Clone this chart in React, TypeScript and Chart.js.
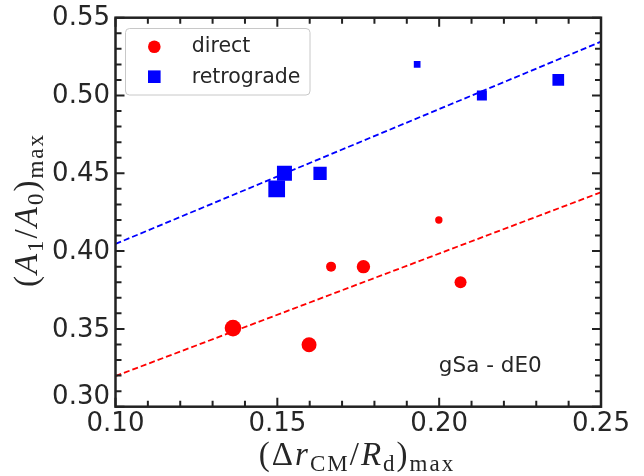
import React, { useEffect, useRef } from 'react';
import { Chart, registerables } from 'chart.js';

Chart.register(...registerables);

// ---- data ----
const directX = [0.1363, 0.1598, 0.1666, 0.1766, 0.1999, 0.2066];
const directY = [0.3505, 0.3398, 0.3900, 0.3900, 0.4200, 0.3800];
const directMarkerRadius = [8.3, 7.5, 5.0, 6.7, 3.7, 6.0];

const retroX = [0.1498, 0.1522, 0.1632, 0.1932, 0.2132, 0.2368];
const retroY = [0.4400, 0.4500, 0.4500, 0.5200, 0.5000, 0.5100];
const retroMarkerSide = [16.7, 15.0, 13.3, 6.7, 10.0, 11.7];

const fitX = [0.10, 0.25];
const directFitY = [0.3197, 0.4378];
const retroFitY = [0.4046, 0.5346];

const xTickValues = [0.10, 0.15, 0.20, 0.25];
const xTickLabels = ['0.10', '0.15', '0.20', '0.25'];
const yTickValues = [0.30, 0.35, 0.40, 0.45, 0.50, 0.55];
const yTickLabels = ['0.30', '0.35', '0.40', '0.45', '0.50', '0.55'];
const minorStep = 0.01;

const legendLabels = ['direct', 'retrograde'];
const annotationText = 'gSa - dE0';

type Seg = { t: string; it?: boolean; sub?: boolean };
const xTitle: Seg[] = [
  { t: '(' }, { t: 'Δ' }, { t: 'r', it: true }, { t: 'CM', sub: true },
  { t: '/' }, { t: 'R', it: true }, { t: 'd', sub: true }, { t: ')' }, { t: 'max', sub: true },
];
const yTitle: Seg[] = [
  { t: '(' }, { t: 'A', it: true }, { t: '1', sub: true }, { t: '/' },
  { t: 'A', it: true }, { t: '0', sub: true }, { t: ')' }, { t: 'max', sub: true },
];

const TEXT = '#262626';
const SANS = '"DejaVu Sans", sans-serif';
const SERIF = '"Liberation Serif", serif';

function drawMath(ctx: CanvasRenderingContext2D, segs: Seg[], cx: number, baseline: number, main: number, sub: number, drop: number) {
  ctx.save();
  (ctx as any).letterSpacing = '2px';
  const font = (s: Seg) => `${s.it ? 'italic ' : ''}${s.sub ? sub : main}px ${SERIF}`;
  let w = 0;
  for (const s of segs) { ctx.font = font(s); w += ctx.measureText(s.t).width; }
  let x = cx - w / 2;
  ctx.fillStyle = TEXT;
  ctx.textBaseline = 'alphabetic';
  ctx.textAlign = 'left';
  for (const s of segs) {
    ctx.font = font(s);
    ctx.fillText(s.t, x, baseline + (s.sub ? drop : 0));
    x += ctx.measureText(s.t).width;
  }
  ctx.restore();
}

const decor = {
  id: 'decor',
  afterDatasetsDraw(chart: any) {
    const ctx: CanvasRenderingContext2D = chart.ctx;
    const { left, right, top, bottom } = chart.chartArea;
    const xs = chart.scales.x;
    const ys = chart.scales.y;
    ctx.save();
    // frame
    ctx.strokeStyle = '#222';
    ctx.lineWidth = 2.5;
    ctx.strokeRect(left, top, right - left, bottom - top);
    // ticks (inward, all sides)
    ctx.lineWidth = 2;
    const isMajor = (arr: number[], v: number) => arr.some((a) => Math.abs(a - v) < 1e-6);
    const nx = Math.round((xs.max - xs.min) / minorStep);
    for (let i = 0; i <= nx; i++) {
      const v = xs.min + i * minorStep;
      const p = xs.getPixelForValue(v);
      const len = isMajor(xTickValues, v) ? 9 : 6;
      ctx.beginPath();
      ctx.moveTo(p, bottom); ctx.lineTo(p, bottom - len);
      ctx.moveTo(p, top); ctx.lineTo(p, top + len);
      ctx.stroke();
    }
    const ny = Math.round((ys.max - ys.min) / minorStep);
    for (let i = 0; i <= ny; i++) {
      const v = ys.min + i * minorStep;
      const p = ys.getPixelForValue(v);
      const len = isMajor(yTickValues, v) ? 9 : 6;
      ctx.beginPath();
      ctx.moveTo(left, p); ctx.lineTo(left + len, p);
      ctx.moveTo(right, p); ctx.lineTo(right - len, p);
      ctx.stroke();
    }
    // y tick labels (lowest one nudged up, as in the original)
    ctx.fillStyle = TEXT;
    ctx.font = `26px ${SANS}`;
    ctx.textAlign = 'right';
    ctx.textBaseline = 'middle';
    yTickValues.forEach((v, i) => {
      const p = ys.getPixelForValue(v) + (i === 0 ? -9 : 1);
      ctx.fillText(yTickLabels[i], left - 5.5, p);
    });
    // legend
    const lx = left + 10, ly = top + 10.8, lw = 184.5, lh = 66.5;
    ctx.beginPath();
    (ctx as any).roundRect(lx, ly, lw, lh, 4);
    ctx.fillStyle = 'rgba(255,255,255,0.8)';
    ctx.fill();
    ctx.strokeStyle = '#c8c8c8';
    ctx.lineWidth = 1;
    ctx.stroke();
    ctx.fillStyle = '#ff0000';
    ctx.beginPath();
    ctx.arc(lx + 28.8, ly + 18.2, 6.3, 0, Math.PI * 2);
    ctx.fill();
    ctx.fillStyle = '#0000ff';
    ctx.fillRect(lx + 28.8 - 6.3, ly + 48.2 - 6.3, 12.6, 12.6);
    ctx.fillStyle = TEXT;
    ctx.font = `20.5px ${SANS}`;
    ctx.textAlign = 'left';
    ctx.textBaseline = 'alphabetic';
    ctx.fillText(legendLabels[0], lx + 66.2, ly + 23.8);
    ctx.fillText(legendLabels[1], lx + 66.2, ly + 54.2);
    // annotation
    ctx.font = `21.5px ${SANS}`;
    ctx.fillText(annotationText, left + 0.666 * (right - left), bottom - 0.09 * (bottom - top));
    ctx.restore();
    // axis titles
    drawMath(ctx, xTitle, 357, 465, 33, 23, 6);
    ctx.save();
    ctx.translate(37, 210);
    ctx.rotate(-Math.PI / 2);
    drawMath(ctx, yTitle, 0, 0, 33, 23, 6);
    ctx.restore();
  },
};

export default function App() {
  const ref = useRef<HTMLCanvasElement | null>(null);
  useEffect(() => {
    document.body.style.margin = '0';
    if (!ref.current) return;
    const chart = new Chart(ref.current, {
      type: 'scatter',
      data: {
        datasets: [
          {
            label: legendLabels[0],
            data: directX.map((x, i) => ({ x, y: directY[i] })),
            pointStyle: 'circle',
            pointRadius: directMarkerRadius,
            backgroundColor: '#ff0000',
            borderWidth: 0,
            order: 1,
          },
          {
            label: legendLabels[1],
            data: retroX.map((x, i) => ({ x, y: retroY[i] })),
            pointStyle: 'rect',
            pointRadius: retroMarkerSide.map((s) => s / Math.SQRT2),
            backgroundColor: '#0000ff',
            borderWidth: 0,
            order: 1,
          },
          {
            type: 'line',
            label: 'direct fit',
            data: fitX.map((x, i) => ({ x, y: directFitY[i] })),
            borderColor: '#ff0000',
            borderWidth: 1.8,
            borderDash: [6, 3],
            pointRadius: 0,
            fill: false,
            order: 2,
          } as any,
          {
            type: 'line',
            label: 'retrograde fit',
            data: fitX.map((x, i) => ({ x, y: retroFitY[i] })),
            borderColor: '#0000ff',
            borderWidth: 1.8,
            borderDash: [6, 3],
            pointRadius: 0,
            fill: false,
            order: 2,
          } as any,
        ],
      },
      options: {
        animation: false,
        responsive: true,
        maintainAspectRatio: false,
        layout: { padding: { top: 17.7, right: 43, left: 0, bottom: 0 } },
        plugins: { legend: { display: false }, tooltip: { enabled: false } },
        scales: {
          x: {
            type: 'linear',
            min: 0.10,
            max: 0.25,
            grid: { display: false, drawTicks: false },
            border: { display: false },
            afterFit: (s: any) => { s.height = 69.3; },
            afterBuildTicks: (s: any) => { s.ticks = xTickValues.map((value) => ({ value })); },
            ticks: {
              padding: 2,
              color: TEXT,
              font: { family: SANS, size: 26 },
              maxRotation: 0,
              autoSkip: false,
              callback: (_v: any, i: number) => xTickLabels[i],
            },
          },
          y: {
            type: 'linear',
            min: 0.30,
            max: 0.55,
            grid: { display: false, drawTicks: false },
            border: { display: false },
            afterFit: (s: any) => { s.width = 115.5; },
            afterBuildTicks: (s: any) => { s.ticks = yTickValues.map((value) => ({ value })); },
            ticks: { display: false },
          },
        },
      },
      plugins: [decor],
    });
    return () => chart.destroy();
  }, []);
  return (
    <div style={{ position: 'relative', width: '644px', height: '476px' }}>
      <canvas ref={ref} />
    </div>
  );
}
